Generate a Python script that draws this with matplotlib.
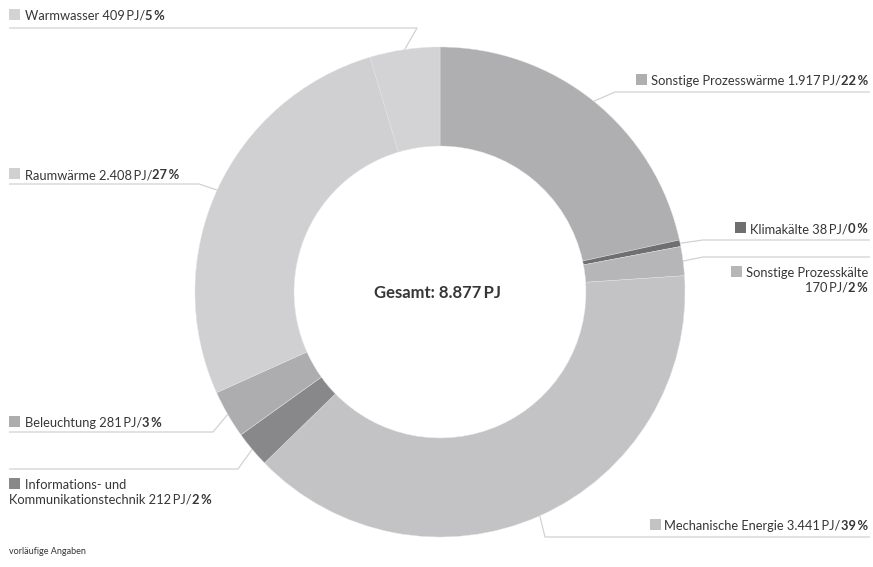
import matplotlib.pyplot as plt
import numpy as np
from matplotlib.patches import Rectangle

# =========================
# DATA
# =========================

names = [
    "Sonstige Prozesswärme",
    "Klimakälte",
    "Sonstige Prozesskälte",
    "Mechanische Energie",
    "Informations- und Kommunikationstechnik",
    "Beleuchtung",
    "Raumwärme",
    "Warmwasser",
]
values_pj = [1917, 38, 170, 3441, 212, 281, 2408, 409]
total_pj = 8877
colors = ["#afafb1", "#6f6f71", "#b6b6b8", "#c3c3c5",
          "#88888a", "#adadaf", "#d0d0d2", "#d3d3d5"]

# =========================
# LAYOUT (pixel units, y pointing down)
# =========================

W, H = 873, 567
CX, CY = 440, 292
R_OUT, RING = 245, 99

FONT = ["Lato", "DejaVu Sans"]
TXT = "#363636"
LINE = "#d2d2d2"
FS = 9.3

plt.rcParams["font.family"] = FONT


def de_num(v):
    return f"{v:,}".replace(",", ".")


def pct_of(v):
    return int(round(v / total_pj * 100))


fig = plt.figure(figsize=(W / 100, H / 100), dpi=100)
ax = fig.add_axes([0, 0, 1, 1])

# with y inverted, counterclock in data space runs clockwise on screen
wedges, _ = ax.pie(
    values_pj,
    colors=colors,
    startangle=-90,
    counterclock=True,
    radius=R_OUT,
    center=(CX, CY),
    wedgeprops=dict(width=RING, edgecolor="#e4e4e6", linewidth=0.3),
)

ax.set_xlim(0, W)
ax.set_ylim(H, 0)
ax.set_aspect("auto")
ax.axis("off")

renderer = fig.canvas.get_renderer()
inv = ax.transData.inverted()


def right_edge(t):
    bb = t.get_window_extent(renderer)
    return inv.transform((bb.x1, bb.y0))[0]


def left_edge(t):
    bb = t.get_window_extent(renderer)
    return inv.transform((bb.x0, bb.y0))[0]


def square(x, base, color):
    ax.add_patch(Rectangle((x, base - 11), 11, 11, color=color, lw=0))


def anchor(i):
    w = wedges[i]
    mid = np.deg2rad((w.theta1 + w.theta2) / 2)
    return CX + R_OUT * np.cos(mid), CY + R_OUT * np.sin(mid)


def leader(i, side, line_y, elbow_x):
    ax_, ay_ = anchor(i)
    x0 = 9 if side == "left" else 870
    ax.plot([x0, elbow_x, ax_], [line_y, line_y, ay_],
            color=LINE, lw=0.9, solid_capstyle="butt", zorder=0)


def label_left(i, base, first=None):
    square(9, base, colors[i])
    if first is not None:
        ax.text(25, base, first, fontsize=FS, color=TXT, va="baseline")
        x, base, head = 9, base + 15, names[i].split(" ", 2)[-1]
    else:
        x, head = 25, names[i]
    t = ax.text(x, base, f"{head} {de_num(values_pj[i])}\u2009PJ/",
                fontsize=FS, color=TXT, va="baseline")
    ax.text(right_edge(t), base, f"{pct_of(values_pj[i])}\u2009%",
            fontsize=FS, color=TXT, va="baseline", fontweight="bold")


def label_right(i, base, two_lines=False):
    xr = 868
    bold_base = base + 15 if two_lines else base
    b = ax.text(xr, bold_base, f"{pct_of(values_pj[i])}\u2009%",
                fontsize=FS, color=TXT, va="baseline", ha="right",
                fontweight="bold")
    if two_lines:
        ax.text(left_edge(b), bold_base, f"{de_num(values_pj[i])}\u2009PJ/",
                fontsize=FS, color=TXT, va="baseline", ha="right")
        t = ax.text(xr, base, names[i], fontsize=FS, color=TXT,
                    va="baseline", ha="right")
    else:
        t = ax.text(left_edge(b), base,
                    f"{names[i]} {de_num(values_pj[i])}\u2009PJ/",
                    fontsize=FS, color=TXT, va="baseline", ha="right")
    square(left_edge(t) - 15, base, colors[i])


# =========================
# LABELS AND LEADER LINES
# =========================

# right side
label_right(0, 85)
leader(0, "right", 92, 615)
label_right(1, 233)
leader(1, "right", 240, 703)
label_right(2, 277, two_lines=True)
leader(2, "right", 257, 703)
label_right(3, 530)
leader(3, "right", 537, 545)

# left side
label_left(7, 20)
leader(7, "left", 28, 417)
label_left(6, 179)
leader(6, "left", 184, 199)
label_left(5, 427)
leader(5, "left", 432, 213)
label_left(4, 489, first="Informations- und")
leader(4, "left", 469, 238)

ax.text(CX - 2, CY + 1, f"Gesamt: {de_num(total_pj)}\u2009PJ",
        fontsize=12, color=TXT, fontweight="bold", ha="center", va="center")

ax.text(9, 554, "vorläufige Angaben", fontsize=6.5, color=TXT, va="baseline")

fig.savefig("out.png", dpi=100, facecolor="white")
